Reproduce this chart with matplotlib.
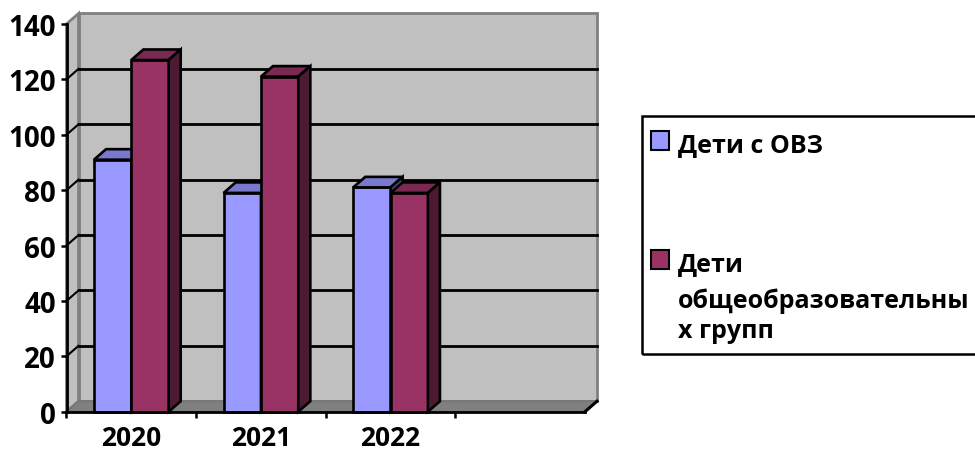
import matplotlib
matplotlib.use("Agg")
import matplotlib.pyplot as plt
from matplotlib.patches import Polygon, Rectangle

plt.rcParams["font.family"] = ["Open Sans", "DejaVu Sans"]
plt.rcParams["font.weight"] = "bold"

years = ["2020", "2021", "2022"]
ovz = [91, 79, 81]
general = [127, 121, 79]
series_names = ["Дети с ОВЗ", "Дети\nобщеобразовательны\nх групп"]
yticks = [0, 20, 40, 60, 80, 100, 120, 140]

W, H = 975, 456
BAR_W = 0.288
DX, DY = 0.093, 3.8  # depth offset in data units
colors = {
    "ovz": ("#9999FF", "#7878CC", "#4D4D80"),
    "general": ("#993366", "#7A2952", "#4C1A33"),
}


def box(ax, x0, x1, h, front, top, side, z):
    kw = dict(ec="black", lw=1.9, joinstyle="miter", clip_on=False, zorder=z)
    ax.add_patch(Polygon([(x0, 0), (x1, 0), (x1, h), (x0, h)], fc=front, **kw))
    ax.add_patch(Polygon([(x0, h), (x1, h), (x1 + DX, h + DY), (x0 + DX, h + DY)], fc=top, **kw))
    ax.add_patch(Polygon([(x1, 0), (x1 + DX, DY), (x1 + DX, h + DY), (x1, h)], fc=side, **kw))


fig = plt.figure(figsize=(W / 100, H / 100), dpi=100)
ax = fig.add_axes([66.5 / W, 1 - 412.7 / H, (585 - 66.5) / W, (412.7 - 25) / H])
ax.set_xlim(-0.5, 3.5)
ax.set_ylim(0, 140)
ax.patch.set_visible(False)

x0, x1, top = -0.5, 3.5, 140
# walls and floor
ax.add_patch(Polygon([(x0 + DX, DY), (x1 + DX, DY), (x1 + DX, top + DY), (x0 + DX, top + DY)],
                     fc="#C0C0C0", ec="#808080", lw=2, clip_on=False, zorder=0))
ax.add_patch(Polygon([(x0, 0), (x0 + DX, DY), (x0 + DX, top + DY), (x0, top)],
                     fc="#C0C0C0", ec="#808080", lw=2, clip_on=False, zorder=0))
ax.add_patch(Polygon([(x0, 0), (x1, 0), (x1 + DX, DY), (x0 + DX, DY)],
                     fc="#808080", ec="#777777", lw=1.5, clip_on=False, zorder=0.5))
ax.plot([x1, x1 + DX], [0, DY], color="black", lw=2.2, clip_on=False, zorder=0.6)

# gridlines on the back wall and the side wall
for v in yticks[1:-1]:
    ax.plot([x0 + DX, x1 + DX], [v + DY, v + DY], color="black", lw=2, clip_on=False, zorder=1)
    ax.plot([x0, x0 + DX], [v, v + DY], color="black", lw=1.5, clip_on=False, zorder=1)

# bars, left to right so each front face covers the neighbour's side
z = 2
for i in range(len(years)):
    box(ax, i - BAR_W, i, ovz[i], *colors["ovz"], z)
    box(ax, i, i + BAR_W, general[i], *colors["general"], z + 1)
    z += 2

for s in ["top", "right"]:
    ax.spines[s].set_visible(False)
for s in ["left", "bottom"]:
    ax.spines[s].set_linewidth(2)
    ax.spines[s].set_zorder(20)

ax.set_yticks(yticks)
ax.tick_params(axis="y", direction="out", length=4.5, width=1.8, labelsize=20, pad=3)
ax.set_xticks([-0.5, 0.5, 1.5, 2.5])
ax.set_xticklabels([])
ax.set_xticks(range(len(years)), minor=True)
ax.set_xticklabels(years, minor=True)
ax.tick_params(axis="x", which="major", direction="out", length=4.5, width=1.8)
ax.tick_params(axis="x", which="minor", length=0, labelsize=19, pad=9)
for lbl in ax.get_yticklabels() + ax.get_xticklabels(minor=True):
    lbl.set_fontweight("bold")

# legend drawn in pixel positions of the figure
def fx(px):
    return px / W


def fy(py):
    return 1 - py / H


fig.add_artist(Rectangle((fx(641.7), fy(355)), fx(990) - fx(641.7), fy(116.7) - fy(355),
                         fill=False, ec="black", lw=1.8, transform=fig.transFigure))
fig.add_artist(Rectangle((fx(651), fy(151)), 18 / W, 19 / H, fc=colors["ovz"][0],
                         ec="black", lw=1.5, transform=fig.transFigure))
fig.add_artist(Rectangle((fx(651), fy(270)), 18 / W, 19 / H, fc=colors["general"][0],
                         ec="black", lw=1.5, transform=fig.transFigure))
fig.text(fx(678), fy(152), series_names[0], fontsize=18, fontweight="bold", va="baseline")
for line, base in zip(series_names[1].split("\n"), [271, 308, 338]):
    fig.text(fx(678), fy(base), line, fontsize=18, fontweight="bold", va="baseline")

fig.savefig("out.png", dpi=100)
